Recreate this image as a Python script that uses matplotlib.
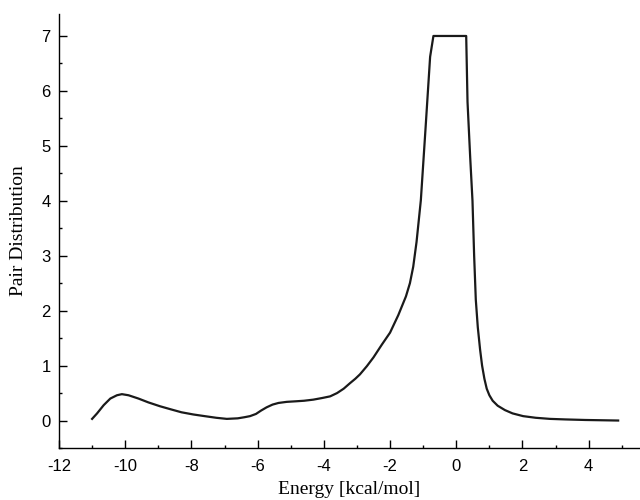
import matplotlib
matplotlib.use('Agg')
from matplotlib import pyplot as plt
from matplotlib.ticker import MultipleLocator

plt.rcParams['axes.unicode_minus'] = False

# energy [kcal/mol] and pair distribution
energy = [-11.0, -10.85, -10.65, -10.45, -10.25, -10.1, -9.9, -9.6, -9.3,
          -8.95, -8.6, -8.3, -7.94, -7.6, -7.25, -6.93, -6.6, -6.4, -6.23,
          -6.05, -5.9, -5.73, -5.55, -5.37, -5.12, -4.85, -4.6, -4.32, -4.05,
          -3.81, -3.6, -3.4, -3.21, -3.05, -2.91, -2.70, -2.5, -2.25, -2.0,
          -1.75, -1.52, -1.40, -1.30, -1.20, -1.07, -0.93, -0.79, -0.69,
          0.30, 0.34, 0.42, 0.49, 0.54, 0.59, 0.65, 0.72, 0.78, 0.85, 0.92,
          1.0, 1.1, 1.25, 1.47, 1.7, 2.02, 2.4, 2.83, 3.3, 3.9, 4.4, 4.89]
pair_dist = [0.03, 0.13, 0.28, 0.40, 0.46, 0.48, 0.46, 0.40, 0.33,
             0.26, 0.20, 0.15, 0.11, 0.08, 0.05, 0.03, 0.04, 0.06, 0.08,
             0.12, 0.18, 0.24, 0.29, 0.32, 0.34, 0.35, 0.36, 0.38, 0.41,
             0.44, 0.50, 0.58, 0.68, 0.76, 0.84, 0.99, 1.15, 1.38, 1.60,
             1.92, 2.26, 2.50, 2.80, 3.25, 4.01, 5.30, 6.62, 7.0,
             7.0, 5.8, 4.8, 4.0, 3.0, 2.2, 1.70, 1.29, 1.0, 0.76, 0.58,
             0.46, 0.36, 0.27, 0.19, 0.13, 0.08, 0.05, 0.03, 0.02, 0.01, 0.005, 0.0]

xticks = [-12, -10, -8, -6, -4, -2, 0, 2, 4]
yticks = [0, 1, 2, 3, 4, 5, 6, 7]

fig = plt.figure(figsize=(6.4, 5), dpi=100)
ax = fig.add_axes([59/640, 52/500, 581/640, 434/500])

ax.plot(energy, pair_dist, color='#1a1a1a', lw=1.6)

ax.set_xlim(-12, 5.55)
ax.set_ylim(-0.5, 7.4)
ax.set_xticks(xticks)
ax.set_yticks(yticks)
ax.xaxis.set_minor_locator(MultipleLocator(1))
ax.yaxis.set_minor_locator(MultipleLocator(0.5))

for s in ['top', 'right']:
    ax.spines[s].set_visible(False)
for s in ['left', 'bottom']:
    ax.spines[s].set_linewidth(1.0)

ax.tick_params(which='major', direction='in', length=5.5, width=1.0, pad=8,
               labelsize=12)
ax.tick_params(which='minor', direction='in', length=2.5, width=1.0)
ax.tick_params(axis='y', which='major', pad=6)
for lab in ax.get_xticklabels() + ax.get_yticklabels():
    lab.set_fontfamily('Liberation Sans')

ax.set_xlabel('Energy [kcal/mol]', family='Liberation Serif', fontsize=14, labelpad=5)
ax.set_ylabel('Pair Distribution', family='Liberation Serif', fontsize=14, labelpad=10)

fig.savefig('out.png', dpi=100)
